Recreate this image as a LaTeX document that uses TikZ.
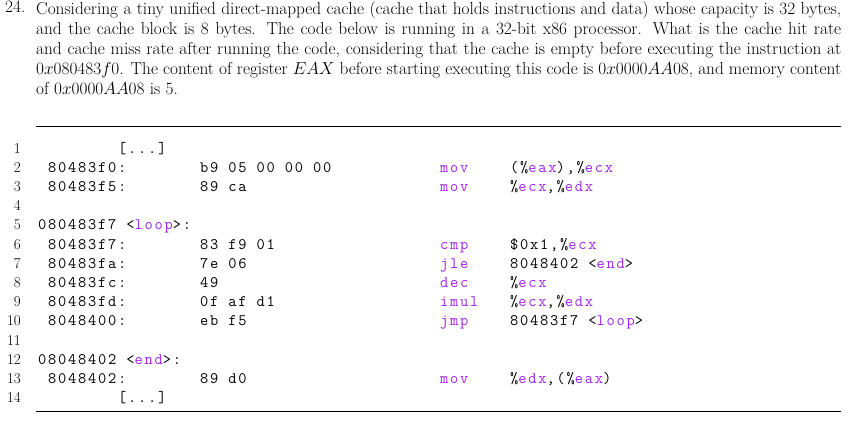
\documentclass[tikz,border=0pt]{standalone}
\usepackage{fontspec}
\newfontfamily\codefont{Latin Modern Mono}[LetterSpace=11]
\definecolor{kw}{RGB}{160,32,240}
\newcommand{\K}[1]{\textcolor{kw}{#1}}
\begin{document}
\begin{tikzpicture}[x=1pt,y=-1pt,
  code/.style={anchor=base west,inner sep=0pt,font=\codefont\fontsize{16}{17}\selectfont},
  num/.style={anchor=base east,inner sep=0pt,font=\fontsize{15}{16}\selectfont}]
\useasboundingbox (0,0) rectangle (859,431);
\node[anchor=north west,inner sep=0pt,font=\fontsize{17.3}{20}\selectfont] (q) at (5,1) {24.};
\node[anchor=north west,inner sep=0pt,text width=805pt,align=justify,font=\fontsize{17.3}{20}\selectfont] (p) at (36,1) {Considering a tiny unified direct-mapped cache (cache that holds instructions and data) whose capacity is 32 bytes, and the cache block is 8 bytes. The code below is running in a 32-bit x86 processor. What is the cache hit rate and cache miss rate after running the code, considering that the cache is empty before executing the instruction at $0x080483f0$. The content of register $EAX$ before starting executing this code is $0x0000AA08$, and memory content of $0x0000AA08$ is 5.};
\coordinate (t1) at (36,126); \coordinate (t2) at (841,126);
\coordinate (b1) at (36,411); \coordinate (b2) at (841,411);
\draw[line width=1pt] (t1) -- (t2);
\draw[line width=1pt] (b1) -- (b2);
\foreach \i in {1,...,14} { \node[num] (n\i) at (21,{148+(\i-1)*19.2+5}) {\i}; }
\def\Y#1{{148+(#1-1)*19.2+5}}
\node[code] (c1) at (118,\Y1) {[...]};
\node[code] (a2) at (48,\Y2) {80483f0:};
\node[code] (h2) at (200,\Y2) {b9 05 00 00 00};
\node[code] (m2) at (440,\Y2) {\K{mov}};
\node[code] (o2) at (510,\Y2) {(\%\K{eax}),\%\K{ecx}};
\node[code] (a3) at (48,\Y3) {80483f5:};
\node[code] (h3) at (200,\Y3) {89 ca};
\node[code] (m3) at (440,\Y3) {\K{mov}};
\node[code] (o3) at (510,\Y3) {\%\K{ecx},\%\K{edx}};
\node[code] (a5) at (38,\Y5) {080483f7 <\K{loop}>:};
\node[code] (a6) at (48,\Y6) {80483f7:};
\node[code] (h6) at (200,\Y6) {83 f9 01};
\node[code] (m6) at (440,\Y6) {\K{cmp}};
\node[code] (o6) at (510,\Y6) {\$0x1,\%\K{ecx}};
\node[code] (a7) at (48,\Y7) {80483fa:};
\node[code] (h7) at (200,\Y7) {7e 06};
\node[code] (m7) at (440,\Y7) {\K{jle}};
\node[code] (o7) at (510,\Y7) {8048402 <\K{end}>};
\node[code] (a8) at (48,\Y8) {80483fc:};
\node[code] (h8) at (200,\Y8) {49};
\node[code] (m8) at (440,\Y8) {\K{dec}};
\node[code] (o8) at (510,\Y8) {\%\K{ecx}};
\node[code] (a9) at (48,\Y9) {80483fd:};
\node[code] (h9) at (200,\Y9) {0f af d1};
\node[code] (m9) at (440,\Y9) {\K{imul}};
\node[code] (o9) at (510,\Y9) {\%\K{ecx},\%\K{edx}};
\node[code] (a10) at (48,\Y{10}) {8048400:};
\node[code] (h10) at (200,\Y{10}) {eb f5};
\node[code] (m10) at (440,\Y{10}) {\K{jmp}};
\node[code] (o10) at (510,\Y{10}) {80483f7 <\K{loop}>};
\node[code] (a12) at (38,\Y{12}) {08048402 <\K{end}>:};
\node[code] (a13) at (48,\Y{13}) {8048402:};
\node[code] (h13) at (200,\Y{13}) {89 d0};
\node[code] (m13) at (440,\Y{13}) {\K{mov}};
\node[code] (o13) at (510,\Y{13}) {\%\K{edx},(\%\K{eax})};
\node[code] (c14) at (118,\Y{14}) {[...]};
\end{tikzpicture}
\end{document}
